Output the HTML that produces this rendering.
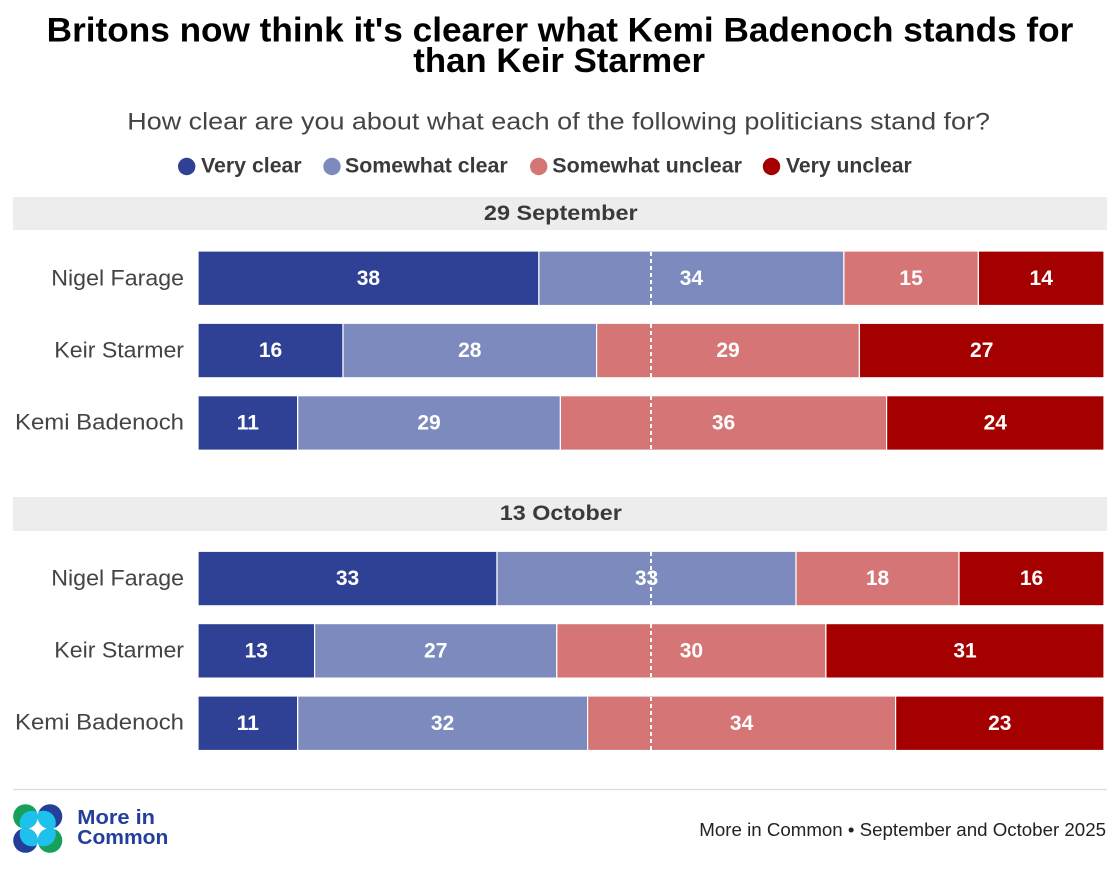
<!DOCTYPE html>
<html><head><meta charset="utf-8"><style>
html,body{margin:0;padding:0;background:#fff;}
svg{display:block;}
</style></head><body>
<svg width="1120" height="871" viewBox="0 0 1120 871" xmlns="http://www.w3.org/2000/svg" font-family="Liberation Sans, Arial, sans-serif">
<rect width="1120" height="871" fill="#fff"/>
<!-- Title -->
<text x="46.7" y="41.7" font-size="34" font-weight="bold" fill="#000" textLength="1026.6" lengthAdjust="spacingAndGlyphs">Britons now think it's clearer what Kemi Badenoch stands for</text>
<text x="413.3" y="72" font-size="34" font-weight="bold" fill="#000" textLength="291.7" lengthAdjust="spacingAndGlyphs">than Keir Starmer</text>
<!-- Subtitle -->
<text x="127.3" y="129.3" font-size="24" fill="#444" textLength="862.7" lengthAdjust="spacingAndGlyphs">How clear are you about what each of the following politicians stand for?</text>
<!-- Legend -->
<g font-size="21" font-weight="bold" fill="#3a3a3a">
<circle cx="186.7" cy="166.5" r="8.7" fill="#2f4194"/>
<text x="201" y="172.7" textLength="100.7" lengthAdjust="spacingAndGlyphs">Very clear</text>
<circle cx="332" cy="166.5" r="8.7" fill="#7c8abe"/>
<text x="345" y="172.7" textLength="162.7" lengthAdjust="spacingAndGlyphs">Somewhat clear</text>
<circle cx="538.7" cy="166.5" r="8.7" fill="#d67575"/>
<text x="552.3" y="172.7" textLength="189.7" lengthAdjust="spacingAndGlyphs">Somewhat unclear</text>
<circle cx="771.5" cy="166.5" r="8.7" fill="#a50000"/>
<text x="786" y="172.7" textLength="125.7" lengthAdjust="spacingAndGlyphs">Very unclear</text>
</g>
<!-- Section bands -->
<rect x="13" y="197" width="1094" height="33" fill="#ededed"/>
<text x="560.8" y="220" font-size="21" font-weight="bold" fill="#3a3a3a" text-anchor="middle" textLength="153.7" lengthAdjust="spacingAndGlyphs">29 September</text>
<rect x="13" y="497" width="1094" height="34" fill="#ededed"/>
<text x="560.8" y="520" font-size="21" font-weight="bold" fill="#3a3a3a" text-anchor="middle" textLength="122" lengthAdjust="spacingAndGlyphs">13 October</text>

<!-- Row labels -->
<g font-size="22.5" fill="#444" text-anchor="end">
<text x="184" y="285.7" textLength="132.7" lengthAdjust="spacingAndGlyphs">Nigel Farage</text>
<text x="184" y="357.7" textLength="129.7" lengthAdjust="spacingAndGlyphs">Keir Starmer</text>
<text x="184" y="429.7" textLength="169" lengthAdjust="spacingAndGlyphs">Kemi Badenoch</text>
<text x="184" y="585.7" textLength="132.7" lengthAdjust="spacingAndGlyphs">Nigel Farage</text>
<text x="184" y="657.7" textLength="129.7" lengthAdjust="spacingAndGlyphs">Keir Starmer</text>
<text x="184" y="729.7" textLength="169" lengthAdjust="spacingAndGlyphs">Kemi Badenoch</text>
</g>

<!-- Bars -->
<g stroke="#fff" stroke-width="1.2">
<!-- Sep Farage -->
<rect x="198" y="251" width="340.9" height="54.5" fill="#2f4194"/>
<rect x="538.9" y="251" width="305" height="54.5" fill="#7c8abe"/>
<rect x="843.9" y="251" width="134.5" height="54.5" fill="#d67575"/>
<rect x="978.4" y="251" width="125.6" height="54.5" fill="#a50000"/>
<!-- Sep Keir -->
<rect x="198" y="323.3" width="145" height="54.5" fill="#2f4194"/>
<rect x="343" y="323.3" width="253.6" height="54.5" fill="#7c8abe"/>
<rect x="596.6" y="323.3" width="262.8" height="54.5" fill="#d67575"/>
<rect x="859.4" y="323.3" width="244.6" height="54.5" fill="#a50000"/>
<!-- Sep Kemi -->
<rect x="198" y="395.7" width="99.7" height="54.5" fill="#2f4194"/>
<rect x="297.7" y="395.7" width="262.7" height="54.5" fill="#7c8abe"/>
<rect x="560.4" y="395.7" width="326.2" height="54.5" fill="#d67575"/>
<rect x="886.6" y="395.7" width="217.4" height="54.5" fill="#a50000"/>
<!-- Oct Farage -->
<rect x="198" y="551.3" width="299" height="54.5" fill="#2f4194"/>
<rect x="497" y="551.3" width="299" height="54.5" fill="#7c8abe"/>
<rect x="796" y="551.3" width="163" height="54.5" fill="#d67575"/>
<rect x="959" y="551.3" width="145" height="54.5" fill="#a50000"/>
<!-- Oct Keir -->
<rect x="198" y="623.6" width="116.6" height="54.5" fill="#2f4194"/>
<rect x="314.6" y="623.6" width="242.2" height="54.5" fill="#7c8abe"/>
<rect x="556.8" y="623.6" width="269.1" height="54.5" fill="#d67575"/>
<rect x="825.9" y="623.6" width="278.1" height="54.5" fill="#a50000"/>
<!-- Oct Kemi -->
<rect x="198" y="696" width="99.7" height="54.5" fill="#2f4194"/>
<rect x="297.7" y="696" width="289.9" height="54.5" fill="#7c8abe"/>
<rect x="587.6" y="696" width="308" height="54.5" fill="#d67575"/>
<rect x="895.6" y="696" width="208.4" height="54.5" fill="#a50000"/>
</g>

<!-- Bar values -->
<g font-size="21" font-weight="bold" fill="#fff" text-anchor="middle">
<text x="368.4" y="284.8">38</text><text x="691.4" y="284.8">34</text><text x="911.1" y="284.8">15</text><text x="1041.2" y="284.8">14</text>
<text x="270.5" y="357.1">16</text><text x="469.8" y="357.1">28</text><text x="728" y="357.1">29</text><text x="981.7" y="357.1">27</text>
<text x="247.8" y="429.5">11</text><text x="429" y="429.5">29</text><text x="723.5" y="429.5">36</text><text x="995.3" y="429.5">24</text>
<text x="347.5" y="585.1">33</text><text x="646.5" y="585.1">33</text><text x="877.5" y="585.1">18</text><text x="1031.5" y="585.1">16</text>
<text x="256.3" y="657.4">13</text><text x="435.7" y="657.4">27</text><text x="691.4" y="657.4">30</text><text x="965" y="657.4">31</text>
<text x="247.8" y="729.8">11</text><text x="442.6" y="729.8">32</text><text x="741.6" y="729.8">34</text><text x="999.8" y="729.8">23</text>
</g>

<!-- Dashed midlines -->
<g stroke="#fff" stroke-width="2" stroke-dasharray="4 3">
<line x1="651" y1="252" x2="651" y2="305"/>
<line x1="651" y1="324" x2="651" y2="378"/>
<line x1="651" y1="396" x2="651" y2="450"/>
<line x1="651" y1="552" x2="651" y2="606"/>
<line x1="651" y1="624" x2="651" y2="678"/>
<line x1="651" y1="697" x2="651" y2="750"/>
</g>

<!-- Footer -->
<line x1="13" y1="789.5" x2="1107" y2="789.5" stroke="#dddddd" stroke-width="1.2"/>
<text x="699.3" y="836" font-size="18" fill="#222" textLength="406.7" lengthAdjust="spacingAndGlyphs">More in Common • September and October 2025</text>

<!-- Logo -->
<defs>
<clipPath id="c1"><circle cx="25.5" cy="816.5" r="12.3"/></clipPath>
<clipPath id="c2"><circle cx="50" cy="816.5" r="12.3"/></clipPath>
<clipPath id="c3"><circle cx="25.5" cy="840.5" r="12.3"/></clipPath>
<clipPath id="c4"><circle cx="50" cy="840.5" r="12.3"/></clipPath>
</defs>
<circle cx="25.5" cy="816.5" r="12.3" fill="#16a05a"/>
<circle cx="32" cy="823" r="12.3" fill="#1ec0ec" clip-path="url(#c1)"/>
<circle cx="50" cy="816.5" r="12.3" fill="#233f9b"/>
<circle cx="43.5" cy="823" r="12.3" fill="#1ec0ec" clip-path="url(#c2)"/>
<circle cx="25.5" cy="840.5" r="12.3" fill="#233f9b"/>
<circle cx="32" cy="834" r="12.3" fill="#1ec0ec" clip-path="url(#c3)"/>
<circle cx="50" cy="840.5" r="12.3" fill="#16a05a"/>
<circle cx="43.5" cy="834" r="12.3" fill="#1ec0ec" clip-path="url(#c4)"/>
<g font-size="20" font-weight="bold" fill="#233f9b">
<text x="77.3" y="824" textLength="77.7" lengthAdjust="spacingAndGlyphs">More in</text>
<text x="77.3" y="844" textLength="91" lengthAdjust="spacingAndGlyphs">Common</text>
</g>
</svg>
</body></html>
